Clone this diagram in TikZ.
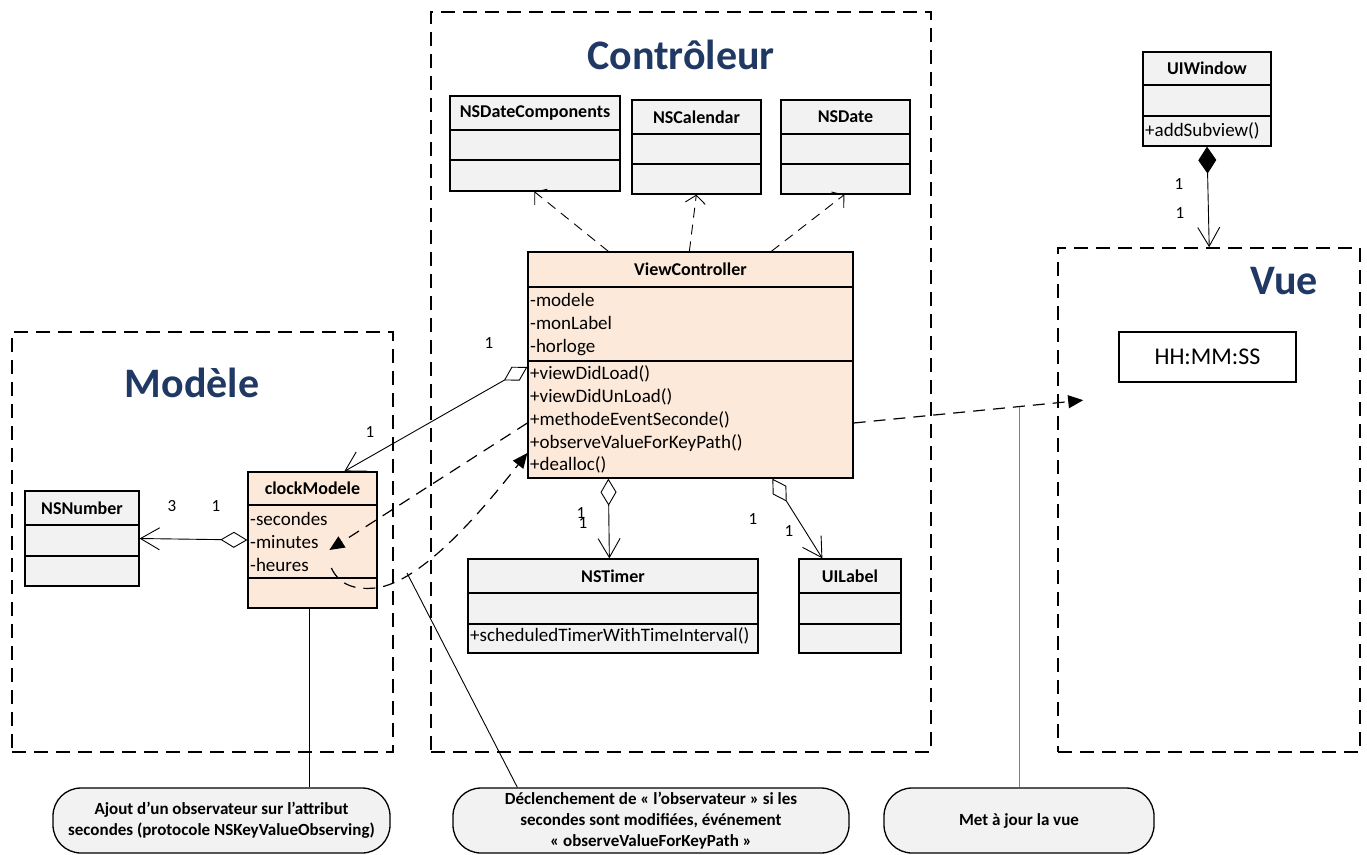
\documentclass[tikz,border=0pt]{standalone}
\usepackage{fontspec}
\setmainfont{Carlito}
\usetikzlibrary{arrows.meta,fit,calc}
\definecolor{navy}{HTML}{1F3864}
\definecolor{clsgray}{HTML}{F2F2F2}
\definecolor{peach}{HTML}{FDE9D9}
\newcommand\umlclass[8]{%
  \node[umlbox, fill=#8, fit={(#2,#3)(#4,#5)}] (#1) {};
  \draw[line width=1.3pt] (#2,#6) -- (#4,#6) (#2,#7) -- (#4,#7);
}
\begin{document}
\begin{tikzpicture}[x=1pt,y=-1pt,
  region/.style={draw, line width=1.6pt, dash pattern=on 14pt off 8pt, inner sep=0pt},
  rtitle/.style={font=\fontsize{42}{48}\selectfont\bfseries, text=navy},
  umlbox/.style={draw, line width=1.3pt, inner sep=0pt},
  cname/.style={font=\fontsize{18}{22}\selectfont\bfseries},
  attr/.style={font=\fontsize{19}{23}\selectfont, anchor=base west, inner sep=0pt},
  mult/.style={font=\fontsize{17}{20}\selectfont},
  depend/.style={line width=0.9pt, dash pattern=on 10pt off 7pt, -{Straight Barb[length=8pt,width=20pt]}},
  agg/.style={line width=0.9pt, {Diamond[open,length=27pt,width=16pt]}-{Straight Barb[length=19pt,width=22pt]}},
  comp/.style={line width=0.9pt, {Diamond[length=27pt,width=18pt]}-{Straight Barb[length=19pt,width=22pt]}},
  msg/.style={line width=1.2pt, dash pattern=on 12pt off 8pt, -{Triangle[length=15pt,width=13pt]}},
  note/.style={line width=0.9pt},
  callout/.style={draw, line width=1.3pt, fill=clsgray, rounded corners=28pt, minimum height=65pt,
    align=center, font=\fontsize{17}{21}\selectfont\bfseries, inner sep=0pt}
]
\useasboundingbox (0,0) rectangle (1367,854);

% regions
\node[region, fit={(12,332)(393,752)}] (modele) {};
\node[region, fit={(431,12)(931,752)}] (ctrl) {};
\node[region, fit={(1058,248)(1360,752)}] (vue) {};
\node[rtitle] (ctrl-t) at (681,55) {Contrôleur};
\node[rtitle] (mod-t) at (192,383) {Modèle};
\node[rtitle] (vue-t) at (1284,281) {Vue};

% classes
\umlclass{ndc}{450}{96}{620}{191}{130}{160}{clsgray}
\umlclass{ncal}{632}{100}{761}{194}{134}{164}{clsgray}
\umlclass{ndate}{781}{100}{910}{194}{134}{164}{clsgray}
\umlclass{uiw}{1143}{52}{1271}{146}{85}{116}{clsgray}
\umlclass{vc}{528}{252}{853}{478}{287}{361}{peach}
\umlclass{cm}{248}{472}{377}{608}{505}{578}{peach}
\umlclass{nsn}{25}{491}{139}{586}{525}{556}{clsgray}
\umlclass{tmr}{468}{559}{758}{653}{593}{624}{clsgray}
\umlclass{uil}{799}{559}{901}{653}{593}{624}{clsgray}

\node[cname] (ndc-n) at (535,113) {NSDateComponents};
\node[cname] (ncal-n) at (696.5,117) {NSCalendar};
\node[cname] (ndate-n) at (845.5,117) {NSDate};
\node[cname] (uiw-n) at (1207,68.5) {UIWindow};
\node[cname] (vc-n) at (690.5,269.5) {ViewController};
\node[cname] (cm-n) at (312.5,488.5) {clockModele};
\node[cname] (nsn-n) at (82,508) {NSNumber};
\node[cname] (tmr-n) at (613,576) {NSTimer};
\node[cname] (uil-n) at (850,576) {UILabel};

\node[attr] (uiw-m1) at (1145,136.5) {+addSubview()};
\node[attr] (tmr-m1) at (470,641) {+scheduledTimerWithTimeInterval()};
\foreach \t [count=\i] in {-modele,-monLabel,-horloge}
  \node[attr] (vc-a\i) at (530,{283+23*\i}) {\t};
\foreach \t [count=\i] in {+viewDidLoad(),+viewDidUnLoad(),+methodeEventSeconde(),+observeValueForKeyPath(),+dealloc()}
  \node[attr] (vc-m\i) at (530,{357+22.75*\i}) {\t};
\foreach \t [count=\i] in {-secondes,-minutes,-heures}
  \node[attr] (cm-a\i) at (250,{502.5+23*\i}) {\t};

\node[draw, line width=1.3pt, minimum width=177pt, minimum height=50pt, inner sep=0pt,
  font=\fontsize{24}{28}\selectfont] (hms) at (1207.5,357) {HH:MM:SS};

% dependencies
\draw[depend] ([xshift=81pt]vc.north west) -- ([xshift=85pt]ndc.south west);
\draw[depend] ([xshift=162pt]vc.north west) -- ([xshift=65pt]ncal.south west);
\draw[depend] ([xshift=244pt]vc.north west) -- ([xshift=64pt]ndate.south west);

% aggregations
\draw[agg] ([yshift=-2pt]vc.west) -- ([xshift=97pt]cm.north west);
\draw[agg] (cm.west) -- (nsn.east);
\draw[agg] ([xshift=81pt]vc.south west) -- ([xshift=142pt]tmr.north west);
\draw[agg] ([xshift=245pt]vc.south west) -- ([xshift=24pt]uil.north west);
\draw[comp] (uiw.south) -- ([xshift=152pt]vue.north west);

% messages
\draw[msg] ([yshift=-58pt]vc.east) -- ([xshift=26pt,yshift=-153pt]vue.north west);
\draw[msg] ([yshift=-58pt]vc.west) -- ([xshift=82pt,yshift=-10pt]cm.west);
\coordinate (bend) at (375,588);
\draw[msg] ([xshift=84pt,yshift=-28pt]cm.west) .. controls +(8,17) and +(-20,2) .. (bend)
  .. controls +(50,-5) and +(-33,42) .. ([yshift=-88pt]vc.west);

% multiplicities
\node[mult] (m1) at (489,343) {1};
\node[mult] (m2) at (370,432) {1};
\node[mult] (m3) at (172,506) {3};
\node[mult] (m4) at (216,506) {1};
\node[mult] (m5) at (581,513) {1};
\node[mult] (m6) at (583,523) {1};
\node[mult] (m7) at (753,519) {1};
\node[mult] (m8) at (789,531) {1};
\node[mult] (m9) at (1179,184) {1};
\node[mult] (m10) at (1180,213) {1};

% callouts
\node[callout, minimum width=337pt] (n1) at (221.5,820.5) {Ajout d’un observateur sur l’attribut\\secondes (protocole NSKeyValueObserving)};
\node[callout, minimum width=396pt] (n2) at (651,820.5) {Déclenchement de « l’observateur » si les\\secondes sont modifiées, événement\\« observeValueForKeyPath »};
\node[callout, minimum width=270pt] (n3) at (1019,820.5) {Met à jour la vue};

\coordinate (n2src) at (407,573);
\coordinate (n3src) at (1019,407);
\draw[note] ([xshift=62pt]cm.south west) -- ([xshift=62pt]cm.south west |- n1.north);
\draw[note] (n2src) -- ([xshift=65pt]n2.north west);
\draw[note, draw=gray] (n3src) -- (n3.north);
\end{tikzpicture}
\end{document}
